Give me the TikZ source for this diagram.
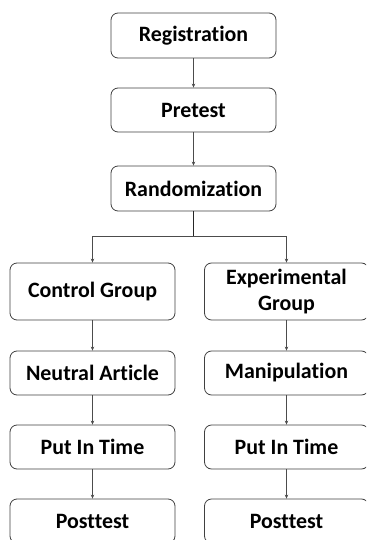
\documentclass[tikz,border=0pt]{standalone}
\usepackage{fontspec}
\setmainfont{Carlito}[Ligatures={NoCommon}]
\usetikzlibrary{arrows.meta}
\begin{document}
\begin{tikzpicture}[x=1bp,y=-1bp,
  box/.style={draw=black!75, line width=0.8bp, rounded corners=7bp, fill=white,
    minimum width=165bp, inner sep=0pt, align=center,
    font=\fontsize{22}{25}\selectfont\bfseries},
  conn/.style={draw=black!70, line width=0.8bp, -{Stealth[length=4bp,width=3.5bp]}},
  plain/.style={draw=black!85, line width=1.1bp}]
\useasboundingbox (0,0) rectangle (366,540);
\clip (0,0) rectangle (366,540);
\node[box, minimum height=45bp] (reg) at (193.5,35.5) {Registration};
\node[box, minimum height=44bp] (pre) at (193.5,110) {Pretest};
\node[box, minimum height=45bp] (rand) at (193.5,188.5) {Randomization};
\coordinate (j) at (193.5,236);
\node[box, minimum height=57bp] (ctrl) at (92.5,291.5) {Control Group};
\node[box, minimum height=57bp, minimum width=164bp] (exp) at (286.5,291.5) {Experimental\\[1.5bp]Group};
\node[box, minimum height=44bp] (neut) at (92.5,373) {Neutral Article};
\node[box, minimum height=44bp, minimum width=164bp] (man) at (286.5,373) {Manipulation};
\node[box, minimum height=44bp] (pit1) at (92.5,447) {Put In Time};
\node[box, minimum height=44bp, minimum width=164bp] (pit2) at (286.5,447) {Put In Time};
\node[box, minimum height=44bp] (post1) at (92.5,521) {Posttest};
\node[box, minimum height=44bp, minimum width=164bp] (post2) at (286.5,521) {Posttest};
\draw[conn] (reg) -- (pre);
\draw[conn] (pre) -- (rand);
\draw[plain] (rand) -- (j);
\draw[conn] (j) -| (ctrl);
\draw[conn] (j) -| (exp);
\draw[conn] (ctrl) -- (neut);
\draw[conn] (exp) -- (man);
\draw[conn] (neut) -- (pit1);
\draw[conn] (man) -- (pit2);
\draw[conn] (pit1) -- (post1);
\draw[conn] (pit2) -- (post2);
\end{tikzpicture}
\end{document}
